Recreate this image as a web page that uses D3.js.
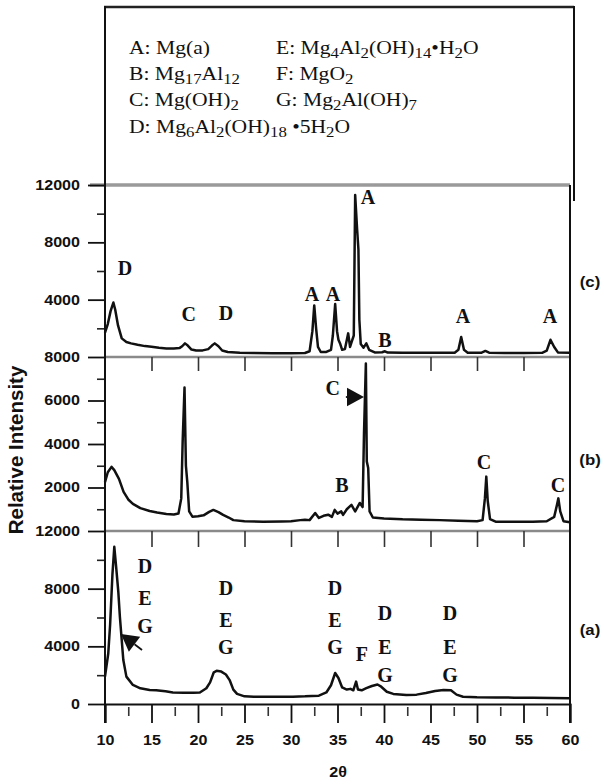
<!DOCTYPE html>
<html><head><meta charset="utf-8">
<script src="https://cdn.jsdelivr.net/npm/d3@7"></script>
<style>body{margin:0;background:#fff} svg{display:block}</style>
</head><body>
<svg id="chart" width="604" height="784"></svg>
<script>
// ---------- data ----------
const xMajorTicks = [10,15,20,25,30,35,40,45,50,55,60];
const xMinorTicks = [12.5,17.5,22.5,27.5,32.5,37.5,42.5,47.5,52.5,57.5];

const cMajorTicks = [4000, 8000, 12000];
const cMinorTicks = [2000, 6000, 10000];
const bMajorTicks = [2000, 4000, 6000, 8000];
const bMinorTicks = [1000, 3000, 5000, 7000];
const aMajorTicks = [0, 4000, 8000, 12000];
const aMinorTicks = [2000, 6000, 10000];

// pattern (c)
const cData = [
[10.0,1700],[10.3,2300],[10.6,3200],[10.9,3800],[11.1,3300],[11.4,2200],[11.8,1300],[12.3,1050],[12.8,950],
[13.5,850],[14.3,760],[15.0,720],[15.8,650],[16.6,600],[17.4,600],[18.0,620],[18.3,750],[18.6,950],[18.9,800],
[19.3,520],[19.8,450],[20.5,460],[21.1,550],[21.5,800],[21.8,950],[22.2,750],[22.6,450],[23.2,350],[24.5,300],
[26,280],[28,270],[30,270],[31.5,280],[32.0,400],[32.3,1800],[32.5,3600],[32.7,2000],[32.9,700],[33.2,350],
[33.8,350],[34.3,500],[34.5,1500],[34.75,3700],[34.95,1800],[35.1,1200],[35.3,900],[35.5,500],[35.8,550],
[36.15,1650],[36.35,700],[36.55,1100],[36.75,1500],[36.9,11300],[37.1,9000],[37.25,7500],[37.35,2600],[37.5,900],
[37.8,650],[38.1,950],[38.4,500],[39,320],[39.8,330],[40.1,400],[40.4,310],[42,300],[44,300],[46,290],[47.6,300],
[48.0,500],[48.3,1400],[48.6,500],[49,300],[50.5,300],[50.9,420],[51.3,300],[53,280],[55,280],[57,290],
[57.5,450],[57.9,1200],[58.3,700],[58.7,320],[60,300]
];
// pattern (b)
const bData = [
[10.0,2250],[10.3,2700],[10.7,2950],[11.0,2800],[11.5,2400],[12.0,1800],[12.5,1450],[13.0,1250],[13.8,1050],
[14.8,920],[15.6,850],[16.6,780],[17.4,760],[17.9,800],[18.2,1500],[18.35,4100],[18.55,6600],[18.7,3000],
[18.85,2250],[19.05,900],[19.4,660],[20.0,680],[20.6,720],[21.2,880],[21.65,970],[22.2,870],[22.7,740],
[23.3,620],[23.8,500],[25,450],[27,430],[29,440],[30,450],[31,500],[31.5,520],[32.0,500],[32.6,830],[33.0,600],
[33.5,700],[34.0,750],[34.4,650],[34.7,970],[35.0,800],[35.4,900],[35.6,740],[36.0,1000],[36.5,1200],[36.9,900],
[37.4,1290],[37.7,1100],[37.85,4500],[38.05,7700],[38.15,3200],[38.3,2900],[38.45,900],[38.8,620],[40,580],
[42,540],[44,520],[46,500],[48,470],[50,450],[50.6,500],[50.85,1500],[51.0,2500],[51.15,1400],[51.4,550],
[52,430],[54,420],[56,430],[57.5,450],[58.3,650],[58.6,1200],[58.75,1500],[58.95,900],[59.3,450],[60,400]
];
// pattern (a)
const aData = [
[10.0,1900],[10.35,3500],[10.55,5500],[10.8,9000],[11.0,10900],[11.2,9500],[11.43,7800],[11.6,6050],
[11.97,3050],[12.3,1900],[13.0,1320],[13.8,1090],[14.8,970],[15.5,950],[16.5,880],[17.3,800],[18.5,780],
[19.5,780],[20.2,800],[20.9,1090],[21.3,1500],[21.7,2200],[22.0,2300],[22.5,2250],[23.0,2050],[23.4,1660],
[23.8,1000],[24.2,700],[25.0,530],[26,510],[28,500],[30.2,510],[31.5,530],[33.0,580],[33.8,800],[34.3,1300],
[34.75,2150],[35.1,1800],[35.5,1150],[36.0,1000],[36.4,1050],[36.7,950],[37.0,1550],[37.2,1000],[37.6,950],
[38.1,1100],[38.7,1250],[39.3,1350],[39.7,1200],[40.3,850],[41,700],[42.4,620],[43.5,650],[44.5,760],
[45.5,900],[46.4,970],[47.2,950],[47.8,650],[48.5,500],[50,460],[52,450],[54,440],[56,430],[58,420],[60,400]
];

// peak labels: [text, 2theta, intensity] (label centre in data units)
const cLabels = [["D",12.15,6210],["C",19.0,3000],["D",23.0,3070],["A",32.26,4400],["A",34.52,4400],
  ["A",38.28,11160],["B",40.1,1190],["A",48.5,2860],["A",57.85,2860]];
const bLabels = [["C",34.5,6570],["B",35.48,2115],["C",50.75,3170],["C",58.7,2115]];
const aLabels = [["D",14.3,9570],["E",14.3,7350],["G",14.3,5410],
  ["D",23.0,8050],["E",23.0,5830],["G",23.0,3950],
  ["D",34.73,8050],["E",34.73,5830],["G",34.73,3950],
  ["F",37.63,3470],
  ["D",40.1,6310],["E",40.1,3950],["G",40.1,2010],
  ["D",47.1,6310],["E",47.1,3950],["G",47.1,2010]];
// arrows: [from 2theta, from I, to 2theta, to I]
const bArrow = [35.9, 6160, 37.85, 6160];
const aArrow = [13.98, 3745, 11.72, 4855];

const panelNames = ["(c)", "(b)", "(a)"];
const legendRows = [
  [[["A: Mg(a)",0]], [["E: Mg",0],["4",1],["Al",0],["2",1],["(OH)",0],["14",1],["•H",0],["2",1],["O",0]]],
  [[["B: Mg",0],["17",1],["Al",0],["12",1]], [["F: MgO",0],["2",1]]],
  [[["C: Mg(OH)",0],["2",1]], [["G: Mg",0],["2",1],["Al(OH)",0],["7",1]]],
  [[["D: Mg",0],["6",1],["Al",0],["2",1],["(OH)",0],["18",1],[" •5H",0],["2",1],["O",0]]]
];

// ---------- drawing ----------
const svg = d3.select("#chart");
const sans = "'Liberation Sans', Arial, sans-serif";
const serif = "'Liberation Serif', 'Times New Roman', serif";

const x = d3.scaleLinear().domain([10,60]).range([105,570]);
const yC = d3.scaleLinear().domain([0,12000]).range([357,185]);
const yB = d3.scaleLinear().domain([0,8000]).range([531,357]);
const yA = d3.scaleLinear().domain([0,12000]).range([704,531]);

// legend box
svg.append("line").attr("x1",104).attr("x2",574).attr("y1",7).attr("y2",7).attr("stroke","#222").attr("stroke-width",2.5);
svg.append("line").attr("x1",574).attr("x2",574).attr("y1",6).attr("y2",201).attr("stroke","#111").attr("stroke-width",2);

// legend text
const colX = [129, 276];
const rowY = [54, 80, 106, 133];
legendRows.forEach((row, ri) => {
  row.forEach((item, ci) => {
    const t = svg.append("text")
      .attr("transform", `translate(${colX[ci]},${rowY[ri]}) scale(1.2,1)`)
      .attr("font-family", serif).attr("font-size", 18).attr("fill","#111")
      .attr("xml:space","preserve").style("white-space","pre");
    let prevSub = 0;
    item.forEach(([s, sub]) => {
      const ts = t.append("tspan").text(s);
      if (sub) { ts.attr("font-size", 14); }
      const dy = (sub ? 4 : 0) - (prevSub ? 4 : 0);
      if (dy !== 0) ts.attr("dy", dy);
      prevSub = sub;
    });
  });
});

// grey top border of panel (c)
svg.append("line").attr("x1",90).attr("x2",570).attr("y1",185).attr("y2",185)
  .attr("stroke","#9a9a9a").attr("stroke-width",3.5);

// curves
const line = (ys) => d3.line().x(d => x(d[0])).y(d => ys(d[1])).curve(d3.curveLinear);
[[cData,yC],[bData,yB],[aData,yA]].forEach(([data, ys]) => {
  svg.append("path").datum(data).attr("d", line(ys))
    .attr("fill","none").attr("stroke","#111").attr("stroke-width",2.5)
    .attr("stroke-linejoin","round");
});

// panel baselines (grey)
svg.append("line").attr("x1",105).attr("x2",570).attr("y1",357).attr("y2",357).attr("stroke","#8a8a8a").attr("stroke-width",2.5);
svg.append("line").attr("x1",105).attr("x2",570).attr("y1",531).attr("y2",531).attr("stroke","#8a8a8a").attr("stroke-width",2.5);

// x ticks on panel baselines
[[357,14],[531,16]].forEach(([y, len]) => {
  const g = svg.append("g").attr("transform", `translate(0,${y})`)
    .call(d3.axisBottom(x).tickValues(xMajorTicks.slice(1,-1)).tickSize(len).tickFormat(""));
  g.select(".domain").remove();
  g.selectAll("line").attr("stroke","#333").attr("stroke-width",1.6);
});

// bottom axis
const gx = svg.append("g").attr("transform","translate(0,704)")
  .call(d3.axisBottom(x).tickValues(xMajorTicks).tickSize(19).tickPadding(12).tickFormat(d3.format("d")));
gx.select(".domain").attr("stroke","#111").attr("stroke-width",2);
gx.selectAll("line").attr("stroke","#111").attr("stroke-width",1.8);
gx.selectAll("text").attr("font-family",sans).attr("font-weight","bold").attr("font-size",14)
  .attr("fill","#111").each(function(){
    const t = d3.select(this); const yy = +t.attr("y");
    t.attr("y",0).attr("transform",`translate(0,${yy}) scale(1.15,1)`);
  });
const gxm = svg.append("g").attr("transform","translate(0,704)")
  .call(d3.axisBottom(x).tickValues(xMinorTicks).tickSize(12).tickFormat(""));
gxm.select(".domain").remove();
gxm.selectAll("line").attr("stroke","#333").attr("stroke-width",1.6).attr("y1",3);

// y axes
function yAxis(scale, major, minor) {
  const g = svg.append("g").attr("transform","translate(105,0)")
    .call(d3.axisLeft(scale).tickValues(major).tickSize(17).tickFormat(d3.format("d")));
  g.select(".domain").remove();
  g.selectAll("line").attr("stroke","#111").attr("stroke-width",1.8);
  g.selectAll("text").attr("font-family",sans).attr("font-weight","bold").attr("font-size",14)
    .attr("fill","#111").attr("x",0).attr("transform","translate(-25,0) scale(1.15,1)");
  const gm = svg.append("g").attr("transform","translate(105,0)")
    .call(d3.axisLeft(scale).tickValues(minor).tickSize(8).tickFormat(""));
  gm.select(".domain").remove();
  gm.selectAll("line").attr("stroke","#222").attr("stroke-width",1.6);
}
yAxis(yC, cMajorTicks, cMinorTicks);
yAxis(yB, bMajorTicks, bMinorTicks);
yAxis(yA, aMajorTicks, aMinorTicks);

// left axis line and right frame line
svg.append("line").attr("x1",105).attr("x2",105).attr("y1",6).attr("y2",723).attr("stroke","#111").attr("stroke-width",2);
svg.append("line").attr("x1",570).attr("x2",570).attr("y1",185).attr("y2",723).attr("stroke","#111").attr("stroke-width",2);

// peak labels
function labels(list, ys) {
  list.forEach(([s, tx, v]) => {
    svg.append("text").attr("x", x(tx)).attr("y", ys(v)).attr("dy","0.35em")
      .attr("text-anchor","middle").attr("font-family",serif).attr("font-weight","bold")
      .attr("font-size",20).attr("fill","#111").text(s);
  });
}
labels(cLabels, yC); labels(bLabels, yB); labels(aLabels, yA);

// arrows
function arrow(a, ys, head) {
  const x1 = x(a[0]), y1 = ys(a[1]), x2 = x(a[2]), y2 = ys(a[3]);
  const ang = Math.atan2(y2 - y1, x2 - x1);
  const bx = x2 - head * Math.cos(ang), by = y2 - head * Math.sin(ang);
  const w = head * 0.55;
  svg.append("line").attr("x1",x1).attr("y1",y1).attr("x2",bx).attr("y2",by)
    .attr("stroke","#111").attr("stroke-width",1.8);
  svg.append("path").attr("d", `M${x2},${y2}L${bx - w*Math.sin(ang)},${by + w*Math.cos(ang)}L${bx + w*Math.sin(ang)},${by - w*Math.cos(ang)}Z`)
    .attr("fill","#111");
}
arrow(bArrow, yB, 17);
arrow(aArrow, yA, 17);

// panel names
const panelY = [282, 460, 630];
panelNames.forEach((s, i) => {
  svg.append("text").attr("transform",`translate(590,${panelY[i]}) scale(1.2,1)`).attr("dy","0.35em")
    .attr("text-anchor","middle").attr("font-family",sans).attr("font-weight","bold")
    .attr("font-size",14).attr("fill","#111").text(s);
});

// axis titles
svg.append("text").attr("transform","translate(23,450) rotate(-90)").attr("text-anchor","middle")
  .attr("font-family",sans).attr("font-weight","bold").attr("font-size",20.5).attr("fill","#111")
  .text("Relative Intensity");
svg.append("text").attr("transform","translate(338,777) scale(1.15,1)").attr("text-anchor","middle")
  .attr("font-family",sans).attr("font-weight","bold").attr("font-size",14).attr("fill","#111")
  .text("2θ");
</script>
</body></html>
